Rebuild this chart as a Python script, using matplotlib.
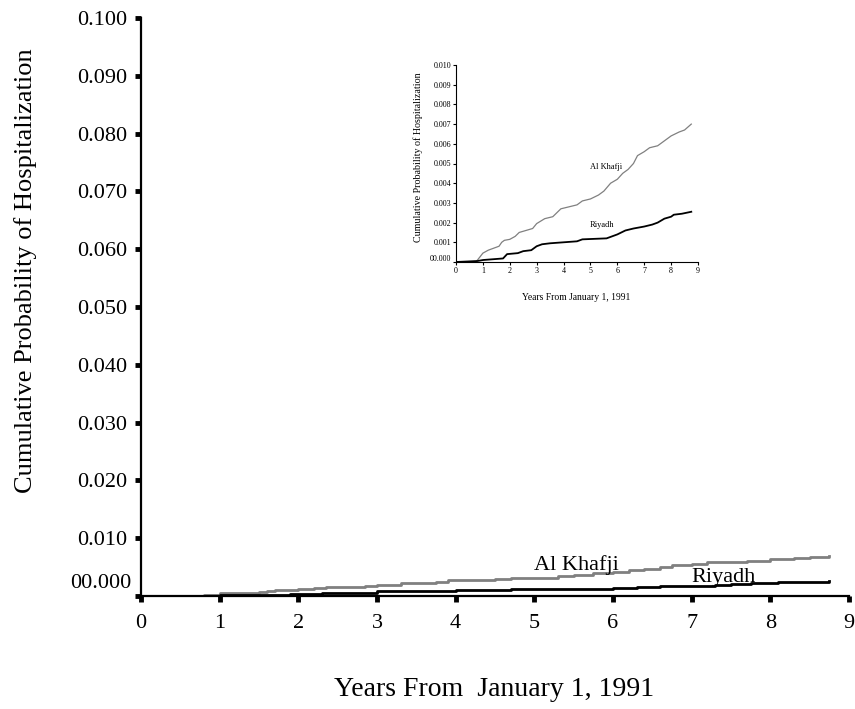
import matplotlib
matplotlib.use("Agg")
import matplotlib.pyplot as plt
from matplotlib.transforms import offset_copy

plt.rcParams['font.family'] = ['Liberation Serif', 'DejaVu Serif']

# ---- data ----
years_khafji = [0.0, 0.75, 0.8, 1.0, 1.2, 1.5, 1.6, 1.7, 1.8, 2.0, 2.2, 2.35, 2.6, 2.85,
                3.0, 3.3, 3.6, 3.75, 3.9, 4.2, 4.5, 4.7, 5.0, 5.3, 5.5, 5.75, 6.0, 6.2,
                6.4, 6.6, 6.75, 7.0, 7.2, 7.5, 7.7, 8.0, 8.3, 8.5, 8.75]
prob_khafji = [0.0, 0.00003, 0.0001, 0.00045, 0.0006, 0.00075, 0.0008, 0.001, 0.0011,
               0.00115, 0.0013, 0.0015, 0.0016, 0.0017, 0.00195, 0.0022, 0.0023, 0.0025,
               0.0027, 0.0028, 0.0029, 0.0031, 0.0032, 0.0034, 0.0036, 0.004, 0.0042,
               0.0045, 0.0047, 0.005, 0.0054, 0.0056, 0.0058, 0.0059, 0.0061, 0.0064,
               0.0066, 0.0067, 0.007]
years_riyadh = [0.0, 0.8, 1.0, 1.75, 1.9, 2.3, 2.5, 2.8, 3.0, 3.2, 3.5, 4.0, 4.5, 4.7,
                5.6, 6.0, 6.3, 6.6, 7.0, 7.3, 7.5, 7.75, 8.0, 8.1, 8.4, 8.75]
prob_riyadh = [0.0, 0.00005, 0.0001, 0.00018, 0.0004, 0.00045, 0.00055, 0.0006, 0.0008,
               0.0009, 0.00095, 0.001, 0.00105, 0.00115, 0.0012, 0.0014, 0.0016, 0.0017,
               0.0018, 0.0019, 0.002, 0.0022, 0.0023, 0.0024, 0.00245, 0.00255]

main_xticks = list(range(0, 10))
main_yticks = [0.0, 0.01, 0.02, 0.03, 0.04, 0.05, 0.06, 0.07, 0.08, 0.09, 0.10]
main_yticklabels = ['00.000', '0.010', '0.020', '0.030', '0.040', '0.050', '0.060',
                    '0.070', '0.080', '0.090', '0.100']
inset_yticks = [0.0, 0.001, 0.002, 0.003, 0.004, 0.005, 0.006, 0.007, 0.008, 0.009, 0.010]
inset_yticklabels = ['00.000', '0.001', '0.002', '0.003', '0.004', '0.005', '0.006',
                     '0.007', '0.008', '0.009', '0.010']

GRAY = '#808080'

fig = plt.figure(figsize=(8.55, 7.09), dpi=100)

# ---- main axes ----
ax = fig.add_axes([141/855, 1-596/709, (849-141)/855, (596-18)/709])
ax.plot(years_khafji, prob_khafji, drawstyle='steps-post', color=GRAY, lw=2.0)
ax.plot(years_riyadh, prob_riyadh, drawstyle='steps-post', color='black', lw=2.0)
ax.set_xlim(0, 9)
ax.set_ylim(0, 0.10)
for s in ['top', 'right']:
    ax.spines[s].set_visible(False)
for s in ['left', 'bottom']:
    ax.spines[s].set_linewidth(1.6)
ax.set_xticks(main_xticks)
ax.set_xticklabels([str(t) for t in main_xticks])
ax.set_yticks(main_yticks)
ax.set_yticklabels([''] + main_yticklabels[1:])
ax.tick_params(axis='both', direction='out', length=4, width=3.5, labelsize=16)
ax.tick_params(axis='x', pad=9)
ax.tick_params(axis='y', pad=6)
ax.text(0, main_yticks[0], main_yticklabels[0], ha='right', va='center', fontsize=16,
        transform=offset_copy(ax.get_yaxis_transform(), fig=fig, x=-9.5, y=13, units='dots'))
ax.text(4.99, 0.0054, 'Al Khafji', fontsize=16, ha='left', va='center')
ax.text(7.0, 0.0032, 'Riyadh', fontsize=16, ha='left', va='center')

fig.text(26/855, 1-271/709, 'Cumulative Probability of Hospitalization', rotation=90,
         ha='center', va='center', fontsize=19)
fig.text(494/855, 1-689/709, 'Years From  January 1, 1991', ha='center', va='center',
         fontsize=20)

# ---- inset axes ----
ins = fig.add_axes([456/855, 1-262/709, (698-456)/855, (262-65)/709])
ins.plot(years_khafji, prob_khafji, color=GRAY, lw=0.9)
ins.plot(years_riyadh, prob_riyadh, color='black', lw=1.3)
ins.set_xlim(0, 9)
ins.set_ylim(0, 0.010)
for s in ['top', 'right']:
    ins.spines[s].set_visible(False)
for s in ['left', 'bottom']:
    ins.spines[s].set_linewidth(0.8)
ins.set_xticks(main_xticks)
ins.set_xticklabels([str(t) for t in main_xticks])
ins.set_yticks(inset_yticks)
ins.set_yticklabels([''] + inset_yticklabels[1:])
ins.tick_params(axis='both', direction='out', length=2, width=0.8, labelsize=5.8, pad=1.5)
ins.text(0, inset_yticks[0], inset_yticklabels[0], ha='right', va='center', fontsize=5.8,
         transform=offset_copy(ins.get_yaxis_transform(), fig=fig, x=-4.5, y=3, units='dots'))
ins.text(4.98, 0.0048, 'Al Khafji', fontsize=6, ha='left', va='center')
ins.text(4.98, 0.00188, 'Riyadh', fontsize=6, ha='left', va='center')
fig.text(418/855, 1-157/709, 'Cumulative Probability of Hospitalization', rotation=90,
         ha='center', va='center', fontsize=7.2)
fig.text(576/855, 1-297/709, 'Years From January 1, 1991', ha='center', va='center',
         fontsize=6.9)

fig.savefig('out.png', dpi=100)
